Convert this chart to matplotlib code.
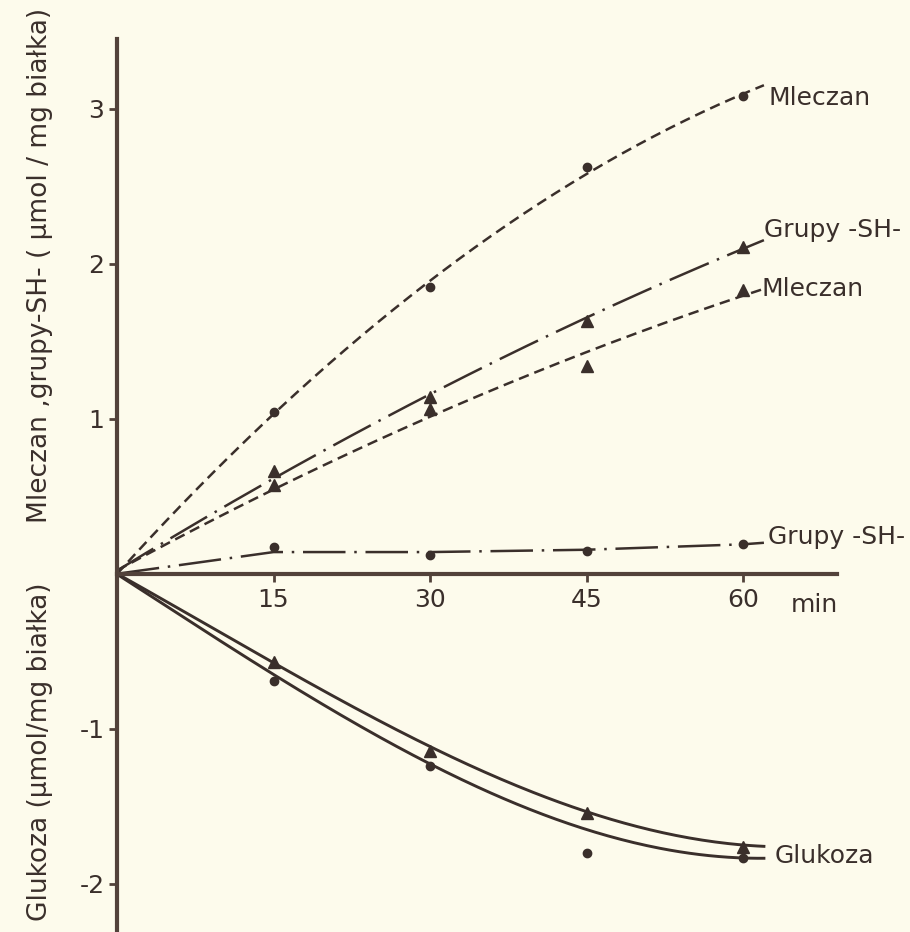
import numpy as np
import matplotlib
matplotlib.use("Agg")
import matplotlib.pyplot as plt

# time points (min)
t = [0, 15, 30, 45, 60]

# measured values, umol / mg protein
mleczan_hi = [0, 1.04, 1.85, 2.62, 3.08]     # circles
mleczan_lo = [0, 0.57, 1.06, 1.34, 1.83]     # triangles
sh_hi = [0, 0.66, 1.14, 1.63, 2.11]          # triangles
sh_lo = [0, 0.17, 0.12, 0.15, 0.19]          # circles
gluk_hi = [0, -0.57, -1.14, -1.54, -1.76]    # triangles
gluk_lo = [0, -0.69, -1.24, -1.80, -1.83]    # circles

# hand drawn curves where they do not follow a simple fit
sh_lo_t = [0, 15, 30, 45, 60, 62]
sh_lo_line = [0, 0.14, 0.14, 0.155, 0.19, 0.20]
gluk_hi_line = [0, -0.57, -1.12, -1.53, -1.75]
gluk_lo_line = [0, -0.66, -1.21, -1.66, -1.83]

xticks = [15, 30, 45, 60]
yticks = [-2, -1, 1, 2, 3]

BG = "#fdfbec"
INK = "#3a2f2b"
AXC = "#52423a"

plt.rcParams["font.family"] = ["DejaVu Sans"]

fig = plt.figure(figsize=(9.10, 9.32), dpi=100, facecolor=BG)
ax = fig.add_axes([117 / 910, 0, 1 - 117 / 910, 1])
ax.set_facecolor(BG)
ax.set_xlim(0, 76)
ax.set_ylim(-2.31, 3.70)

tt = np.linspace(0, 62, 200)


def smooth(vals, deg=2):
    c = np.polyfit(t, vals, deg)
    return np.polyval(c, tt)


dash_m = (4.2, 2.4)
dash_sh = (17, 3.5, 1, 3.5)
lw = 1.8

# Mleczan
ax.plot(tt, smooth(mleczan_hi), color=INK, lw=lw, dashes=dash_m)
ax.plot(t[1:], mleczan_hi[1:], "o", color=INK, ms=6)
ax.plot(tt, smooth(mleczan_lo), color=INK, lw=lw, dashes=dash_m)
ax.plot(t[1:], mleczan_lo[1:], "^", color=INK, ms=8)

# grupy -SH-
ax.plot(tt, smooth(sh_hi), color=INK, lw=lw, dashes=dash_sh)
ax.plot(t[1:], sh_hi[1:], "^", color=INK, ms=8)
ax.plot(sh_lo_t, sh_lo_line, color=INK, lw=lw, dashes=dash_sh)
ax.plot(t[1:], sh_lo[1:], "o", color=INK, ms=6)

# Glukoza
ax.plot(tt, smooth(gluk_hi_line, 3), color=INK, lw=2.1)
ax.plot(t[1:], gluk_hi[1:], "^", color=INK, ms=8)
ax.plot(tt, smooth(gluk_lo_line, 3), color=INK, lw=2.1)
ax.plot(t[1:], gluk_lo[1:], "o", color=INK, ms=6)

# curve labels
fs = 18
ax.text(62.4, 3.07, "Mleczan", fontsize=fs, color=INK, va="center", ha="left")
ax.text(62.0, 2.22, "Grupy -SH-", fontsize=fs, color=INK, va="center", ha="left")
ax.text(61.8, smooth(mleczan_lo)[-1], "Mleczan", fontsize=fs, color=INK, va="center", ha="left")
ax.text(62.4, 0.24, "Grupy -SH-", fontsize=fs, color=INK, va="center", ha="left")
ax.text(63.0, -1.82, "Glukoza", fontsize=fs, color=INK, va="center", ha="left")

# axes
for s in ["top", "right"]:
    ax.spines[s].set_visible(False)
ax.spines["left"].set_color(AXC)
ax.spines["left"].set_linewidth(3)
ax.spines["left"].set_bounds(-2.31, 3.45)
ax.spines["bottom"].set_position(("data", 0))
ax.spines["bottom"].set_color(AXC)
ax.spines["bottom"].set_linewidth(3)
ax.spines["bottom"].set_bounds(0, 69)

ax.set_xticks(xticks)
ax.set_xticklabels([str(v) for v in xticks])
ax.set_yticks(yticks)
ax.set_yticklabels([str(v) for v in yticks])
ax.tick_params(axis="both", colors=AXC, labelcolor=INK, labelsize=18,
               width=2, length=6, direction="out")
ax.tick_params(axis="x", pad=4)
ax.tick_params(axis="y", pad=3)
ax.text(64.6, -0.2, "min", fontsize=18, color=INK, va="center", ha="left")

# y axis captions
fig.text(40 / 910, 1 - 265 / 932, "Mleczan ,grupy-SH- ( µmol / mg białka)",
         rotation=90, fontsize=19, color=INK, ha="center", va="center")
fig.text(40 / 910, 1 - 752 / 932, "Glukoza (µmol/mg białka)",
         rotation=90, fontsize=19, color=INK, ha="center", va="center")

fig.savefig("out.png", dpi=100, facecolor=BG)
